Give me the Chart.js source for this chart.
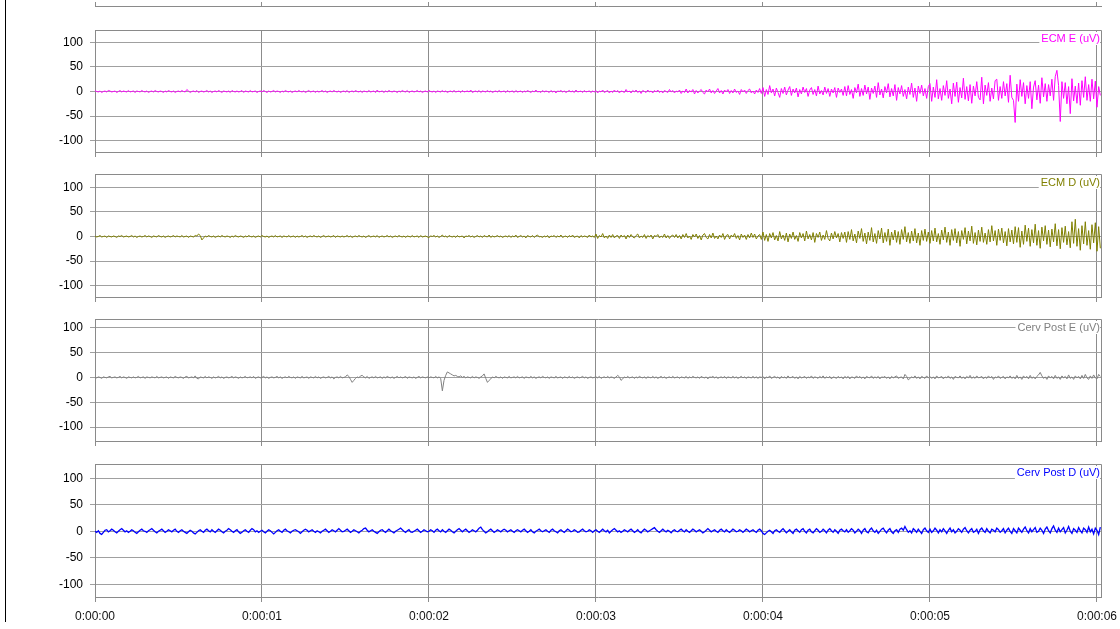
<!DOCTYPE html>
<html>
<head>
<meta charset="utf-8">
<script src="https://cdn.jsdelivr.net/npm/chart.js@4.4.1/dist/chart.umd.min.js"></script>
<style>
  html, body { margin: 0; padding: 0; background: #fff; }
  body { width: 1120px; height: 629px; position: relative; overflow: hidden; }
  canvas { position: absolute; left: 0; }
  #edge { position: absolute; left: 5px; top: 0; width: 1px; height: 622px; background: #000; }
</style>
</head>
<body>
<div id="edge"></div>
<script>
// sampling of the recordings (seconds between samples)
const SAMPLE_STEP = 0.01;

// x axis: ticks every second
const X_TICKS = [0, 1, 2, 3, 4, 5, 6];
const X_LABELS = ["0:00:00", "0:00:01", "0:00:02", "0:00:03", "0:00:04", "0:00:05", "0:00:06"];
const X_MAX = 6.024;

// y axis ticks (uV)
const Y_TICKS = [-100, -50, 0, 50, 100];

// channel names / colours
const CHANNELS = ["ECM E (uV)", "ECM D (uV)", "Cerv Post E (uV)", "Cerv Post D (uV)"];
const COLORS = ["#ff00ff", "#808000", "#808080", "#0000ff"];
const Y_MIN = [-123, -123, -128, -124];
const Y_MAX = [125, 127, 117.5, 127];

// 1. ECM E  (one row = 0.5 s)
const ECM_E = [
  2,0,-1,1,-2,0,1,-1,2,1, -1,0,1,-2,0,2,-1,1,0,-1, 2,-1,0,1,-2,1,0,-1,2,0, -1,1,-2,0,1,-1,2,0,-1,1, 0,-2,1,-1,2,0,-1,1,-2,0,
  1,-1,2,0,-1,4,1,-2,0,1, -1,2,-2,0,1,-1,0,2,-1,1, -2,0,1,-1,2,0,-2,1,0,-1, 1,-2,2,0,-1,1,-1,0,2,-2, 1,0,-1,2,-1,0,1,-2,0,1,
  -1,2,0,-2,1,-1,0,2,-1,1, 0,-2,1,-1,2,0,-1,1,-2,0, 1,-1,2,0,-1,1,-2,0,2,-1, 0,1,-2,1,-1,0,2,-1,1,-2, 0,1,-1,2,0,-1,1,-2,0,1,
  -1,2,-2,0,1,-1,2,0,-1,1, -2,1,0,-1,2,-1,0,1,-2,3, -1,0,1,-2,1,-1,2,0,-1,1, 0,-2,1,-1,2,0,-1,2,-2,0, 1,-1,0,2,-1,1,-2,0,1,-1,
  2,0,-1,1,-2,1,0,-1,2,-1, 1,-2,0,1,-1,2,-1,0,1,-2, 2,-1,0,1,-1,3,-2,0,1,-1, 2,-2,1,0,-1,2,-1,1,-2,0, 1,-1,2,-1,0,1,-2,2,-1,0,
  1,-2,2,-1,0,1,-2,1,-1,2, 0,-2,1,-1,3,-1,0,-2,2,-1, 1,0,-2,2,-1,1,-3,1,0,2, -1,1,-2,0,2,-1,1,-2,3,-1, 0,1,-2,2,-1,0,1,-2,1,-1,
  2,-3,1,-1,3,-2,0,2,-3,1, -2,3,-1,2,-3,1,0,-2,4,-1, 1,-3,2,-1,3,-2,1,-4,2,0, -2,3,-1,1,-3,2,-1,3,-2,1, -3,2,0,-2,4,-1,2,-3,1,-1,
  3,-4,1,-2,5,-3,2,-1,4,-5, 2,-3,1,4,-2,-5,3,-1,5,-3, 2,-4,1,6,-3,2,-5,3,-1,4, -4,2,-3,5,-2,1,-6,4,-1,3, -4,2,5,-3,1,-5,3,-2,6,-4,
  8,-10,4,-6,12,-3,5,-9,7,-2, -12,6,-4,9,-7,3,10,-8,5,-3, 7,-11,4,-5,9,-2,6,-10,3,8, -6,4,-9,11,-5,2,-7,9,-4,6, -10,5,-3,8,-12,7,-2,5,-8,10,
  -9,12,-6,4,-14,8,-3,15,-10,6, -8,13,-5,9,-16,7,-4,11,-12,18, -7,5,-13,10,-3,16,-11,6,-9,14, -18,8,-5,12,-10,4,-15,9,-6,17, -12,7,-20,11,-4,13,-9,6,-14,10,
  16,-20,9,-12,24,-15,6,-18,12,-8, 22,-14,5,-25,17,-10,19,-22,8,-13, 27,-16,10,-19,14,-24,11,-9,20,-12, -17,29,-25,13,-8,18,-20,7,-15,22, 25,-18,10,-14,20,-9,16,-22,33,-12,
  -18,-63,15,-20,24,-10,18,-25,12,-14, 20,-35,9,22,-17,13,-24,28,-11,16, -20,14,-9,25,-18,30,43,12,-61,20, -14,18,-25,10,-45,26,-19,11,-24,17, -28,22,-12,30,-18,14,-20,25,-15,21,
  -32,10,-8
];

// 2. ECM D
const ECM_D = [
  1,-1,0,2,-1,0,1,-2,1,0, -1,1,0,-2,1,0,2,-1,0,1, -1,0,2,-1,1,-2,0,1,-1,0, 2,-1,1,0,-2,1,0,-1,2,0, -1,1,-2,0,1,-1,0,2,-1,1,
  0,-1,2,-1,0,1,-2,1,0,-1, 2,1,5,2,-7,-3,1,-1,2,0, -1,1,-2,0,1,-1,2,0,-1,1, 0,-2,1,-1,2,0,-1,1,0,-2, 1,-1,2,0,-1,1,-2,0,1,-1,
  2,0,-1,1,-2,0,1,-1,2,-1, 0,1,-2,1,0,-1,2,-1,0,1, -2,1,-1,0,2,-1,1,-2,0,1, -1,2,0,-1,1,-2,0,2,-1,0, 1,-1,0,2,-2,1,0,-1,1,-1,
  0,2,-1,1,-2,0,1,-1,2,0, -1,1,-2,0,2,-1,0,1,-1,2, -2,0,1,-1,0,2,-1,1,-2,0, 1,-1,2,0,-1,1,-2,1,0,-1, 2,-1,0,1,-2,2,-1,0,1,-1,
  -2,1,0,2,-1,1,-2,0,3,-1, 1,-2,2,0,-1,1,-2,2,-1,0, 1,-3,1,0,2,-1,1,-2,0,2, -1,1,-2,2,0,-1,3,-2,1,-1, 0,2,-1,1,-2,0,1,-1,2,-2,
  1,-1,3,-2,0,2,-1,1,-3,2, 0,-1,2,-2,1,3,-1,0,-2,1, -1,2,-3,1,0,2,-2,1,-1,3, -2,0,1,-2,2,-1,3,-2,0,1, -3,2,-1,1,0,-2,3,-1,1,-2,
  5,-4,2,-1,6,-3,1,-4,3,-2, 4,-3,1,2,-4,3,-1,2,-5,3, -2,4,-1,-3,2,5,-3,1,-2,4, -4,2,-1,3,-5,2,0,4,-3,1, -2,5,-3,2,-4,1,3,-2,4,-3,
  2,-5,4,-2,6,-3,1,-6,4,-1, 5,-4,2,-7,3,6,-2,-5,4,-3, 7,-4,1,-5,3,-2,6,-6,2,4, -5,3,-1,6,-4,2,-7,5,-2,3, -6,4,-3,7,-2,5,-5,1,4,-6,
  9,-8,4,-10,6,-3,8,-7,2,-9, 10,-5,3,-8,7,-11,5,-4,9,-6, 2,-10,8,-3,6,-9,11,-5,4,-7, 8,-12,6,-2,9,-8,3,-6,12,-4, -9,7,-5,10,-3,6,-11,8,-4,9,
  -12,10,-6,14,-9,5,-13,11,-4,16, -10,7,-15,9,-8,18,-11,6,-14,12, -5,17,-13,8,-10,15,-18,9,-7,13, -12,10,-16,14,-6,20,-11,8,-14,11, -9,16,-13,7,-18,12,-8,15,-10,9,
  -14,12,-9,17,-11,6,-16,13,-7,19, -12,9,-18,14,-8,16,-13,10,-20,12, -6,18,-15,11,-9,21,-14,8,-17,13, -10,19,-12,7,-16,14,-11,22,-9,12, -18,15,-8,17,-13,10,-19,16,-11,13,
  -15,20,-12,18,-22,11,-16,23,-10,17, -20,14,-13,25,-18,12,-24,19,-9,22, -16,13,-21,15,-11,26,-19,14,-25,18, -12,21,-17,10,-23,30,-14,35,-20,16, -28,22,-15,30,-18,12,-26,24,-13,28,
  -30,20,-24
];

// 3. Cerv Post E
const CERV_E = [
  0,-1,1,0,-2,1,0,-1,1,2, -1,0,1,-1,0,2,-1,1,0,-2, 1,0,-1,1,-1,0,2,-1,0,1, -2,1,0,-1,1,0,-1,2,-1,0, 1,-1,0,1,-2,1,0,-1,2,0,
  -1,1,0,-2,1,2,-1,0,1,-1, 3,-2,-3,1,0,-1,2,-1,1,0, -2,1,-1,0,2,-1,1,-2,0,1, -1,0,2,-1,1,0,-2,1,-1,0, 2,-1,0,1,-1,2,-2,0,1,-1,
  0,2,-1,1,-2,0,1,-1,0,2, -1,1,-2,0,1,-1,2,0,-1,1, -2,1,0,-1,2,-1,0,1,-2,1, 0,-1,2,-1,1,-2,0,1,-1,0, 2,-1,1,-3,0,1,-1,2,-1,0,
  1,5,2,-4,-10,-6,-2,1,-1,3, 4,1,-1,2,-2,0,1,-1,2,-1, 0,1,-2,1,-1,2,0,-1,1,-2, 0,2,-1,1,-1,0,2,-2,1,0, -1,1,-2,0,2,-1,1,0,-1,1,
  -1,1,0,-1,2,-1,1,-2,-27,-6, 4,11,9,7,5,3,4,2,1,3, 0,2,-1,1,0,-1,2,-1,1,0, -2,1,3,7,-2,-10,-6,-3,1,-1, 2,0,-1,1,-2,1,0,-1,2,-1,
  0,1,-1,2,-1,0,1,-2,1,0, -1,2,-1,1,-2,0,1,-1,2,0, -1,1,-2,1,0,-1,2,-1,0,1, -2,1,0,-1,2,-1,1,-2,0,1, -1,0,2,-1,1,-2,0,1,-1,0,
  1,-1,2,-2,0,1,-1,2,-1,1, 0,-2,1,4,1,-6,-3,1,-1,2, -1,0,1,-2,1,-1,2,0,-1,1, -2,1,0,-1,2,-1,1,-2,0,2, -1,1,-2,0,1,-1,2,-1,0,1,
  -2,1,0,-1,2,-2,1,-1,2,0, -1,1,-2,2,0,-1,1,-3,1,0, 2,-1,1,-2,0,1,-1,2,-2,1, 0,-1,2,-1,1,-2,0,2,-1,1, -2,1,0,-1,2,-1,1,-2,1,0,
  2,-3,1,-1,3,-2,0,2,-1,1, -3,2,-1,1,-2,3,-1,0,2,-2, 1,-3,2,-1,0,2,-2,1,-1,3, -2,1,0,-2,2,-1,3,-2,1,-1, 2,-3,1,0,-2,2,-1,1,-3,2,
  -1,2,-3,1,0,-2,3,-1,2,-2, 1,-3,2,0,-1,3,-2,1,-1,2, -3,1,0,2,-2,1,-3,2,-1,1, 3,-2,0,1,-3,6,2,-5,-2,1, -1,3,-2,1,-3,2,0,-2,3,-1,
  2,-2,1,-3,3,-1,0,2,-3,1, -1,3,-2,1,-4,2,0,-1,3,-2, 1,-3,2,-1,4,-2,1,-2,3,-1, 0,2,-3,1,-2,3,-1,2,-4,1, -1,3,-2,0,2,-3,1,-1,3,-2,
  1,-3,4,-2,1,-4,3,-1,2,-3, 4,-2,1,-3,2,5,10,3,-2,1, -4,3,-1,2,-3,4,-2,1,-4,3, -1,2,-3,5,-2,1,-4,3,-1,2, -3,4,-2,6,-1,-4,3,-2,5,-1,
  -3,6,2
];

// 4. Cerv Post D
const CERV_D = [
  0,-2,1,-4,-6,-2,2,3,-1,1, 4,2,-1,-3,0,3,5,2,-1,1, -2,0,3,1,-2,-4,-1,2,4,1, 0,-2,1,3,5,2,-1,-3,0,2, 4,1,-2,0,3,1,-1,2,4,0,
  -2,1,3,0,-2,-4,-1,2,0,-3, -5,-2,1,3,0,-2,2,4,1,-1, 3,0,-2,1,4,2,-1,-3,0,2, 5,3,0,-2,1,3,-1,-4,-2,1, 3,0,-2,2,5,3,-1,1,-2,0,
  2,-1,-3,0,3,1,-2,-5,-2,1, 3,0,-2,2,4,1,-1,-3,0,2, 3,1,-1,-4,-1,2,4,2,-1,1, 3,0,-2,1,-1,-3,0,2,4,1, -2,0,3,1,-1,2,5,2,-1,0,
  2,4,1,-2,0,3,1,-1,-3,0, 2,5,6,2,-1,1,3,0,-2,-4, -1,2,3,0,-2,1,4,1,-1,-3, 0,2,4,6,3,0,-2,1,3,-1, -2,0,2,4,1,-2,0,3,1,-1,
  0,3,1,-2,2,4,1,-1,3,0, -2,1,4,2,-1,-3,0,3,5,2, -1,2,4,1,-2,0,3,1,-1,2, 6,8,3,0,-3,-1,2,4,1,-2, 0,3,1,-1,2,4,2,-1,1,3,
  0,-2,1,3,1,-1,2,4,1,-2, 0,3,-1,-3,0,2,4,1,-1,1, 3,0,-2,2,4,1,-1,-3,1,3, 0,-2,1,4,2,-1,0,3,1,-2, -1,2,4,1,-1,0,3,1,-2,1,
  3,0,-2,1,4,1,-1,2,-3,0, 3,5,2,-1,1,-2,0,3,1,-1, 2,4,1,-2,0,3,-1,-3,1,4, 2,-1,1,3,5,7,3,0,-2,1, 4,1,-1,2,0,-3,1,3,0,-1,
  2,4,1,-1,3,0,-2,1,4,2, -1,1,3,0,-3,-1,2,5,2,-1, 1,3,0,-2,2,4,1,-1,3,0, -2,1,4,2,-1,0,3,1,-2,1, 4,2,-1,1,3,0,-2,2,4,1,
  -4,-6,-3,0,2,-1,-4,1,3,0, -2,2,5,1,-3,0,3,-1,-4,2, 4,1,-2,3,5,0,-3,2,4,-1, -3,1,5,2,-2,0,4,1,-3,2, 5,1,-2,3,0,-4,2,4,1,-1,
  3,-2,1,5,2,-3,0,4,1,-4, 2,5,-1,-3,3,6,1,-2,2,-4, 0,4,6,1,-3,2,5,-1,-4,1, 3,-2,4,6,2,9,3,-2,1,-3, 5,2,-2,4,0,-4,3,6,1,-2,
  4,-2,1,6,2,-3,3,-1,5,1, -4,2,6,-1,3,-3,0,5,2,-2, 4,7,1,-3,2,5,-2,0,4,-4, 3,6,1,-2,5,0,-3,4,2,-1, 6,3,-2,1,5,-3,2,6,0,-4,
  5,1,-3,6,2,-2,4,8,1,-3, 5,-1,3,7,-2,0,6,2,-4,4, 8,1,-3,5,10,2,-2,6,-1,3, 7,-3,2,9,0,-4,5,2,-2,7, 1,-3,6,3,-2,8,-1,4,-5,6,
  2,-6,8
];

const SERIES = [ECM_E, ECM_D, CERV_E, CERV_D];

// page layout of the four strips (plot top / bottom in page pixels)
const PLOT_TOP = [30, 174, 319, 464];
const PLOT_BOTTOM = [152, 297, 441, 597];
const PAD_TOP = 3;

const FONT = "'Liberation Sans', Arial, sans-serif";

// frame + channel name in the top right corner
const panelDecor = {
  id: 'panelDecor',
  afterDatasetsDraw(chart, args, opts) {
    const a = chart.chartArea;
    const ctx = chart.ctx;
    const al = p => Math.round(p - 0.5) + 0.5;
    ctx.save();
    if (opts.label) {
      ctx.font = "11px " + FONT;
      const w = ctx.measureText(opts.label).width;
      ctx.fillStyle = '#fff';
      ctx.fillRect(a.right - w - 3, a.top + 2, w + 2, 13);
      ctx.fillStyle = opts.color;
      ctx.textAlign = 'right';
      ctx.textBaseline = 'middle';
      ctx.fillText(opts.label, a.right - 1, a.top + 8.5);
    }
    ctx.strokeStyle = '#8a8a8a';
    ctx.lineWidth = 1;
    ctx.beginPath();
    ctx.moveTo(al(a.left), al(a.top));
    ctx.lineTo(al(a.right), al(a.top));
    ctx.lineTo(al(a.right), al(a.bottom));
    ctx.stroke();
    ctx.restore();
  }
};

// no extra room for half tick labels: the strips are placed by hand
function noPad(s) {
  s.paddingTop = 0;
  s.paddingBottom = 0;
  s.paddingLeft = 0;
  s.paddingRight = 0;
}

function addCanvas(top, height) {
  const c = document.createElement('canvas');
  c.width = 1120;
  c.height = height;
  c.style.top = top + 'px';
  document.body.appendChild(c);
  return c;
}

// small remnant of the axis above the first strip
const stub = addCanvas(0, 8);
new Chart(stub.getContext('2d'), {
  type: 'line',
  data: { datasets: [] },
  options: {
    responsive: false,
    animation: false,
    layout: { padding: { top: 2, left: 95, right: 19, bottom: 0 } },
    plugins: { legend: { display: false }, tooltip: { enabled: false } },
    scales: {
      x: {
        type: 'linear', min: 0, max: X_MAX,
        afterBuildTicks: s => { s.ticks = X_TICKS.map(v => ({ value: v })); },
        afterFit: s => { s.height = 2; noPad(s); },
        ticks: { display: false },
        grid: { color: '#8c8c8c', drawTicks: false },
        border: { color: '#8a8a8a' }
      },
      y: { display: false, min: 0, max: 1 }
    }
  }
});

SERIES.forEach((values, k) => {
  const last = k === SERIES.length - 1;
  const plotH = PLOT_BOTTOM[k] - PLOT_TOP[k];
  const axisH = last ? 30 : 6;
  const cv = addCanvas(PLOT_TOP[k] - PAD_TOP, PAD_TOP + plotH + axisH);
  const points = values.map((v, i) => ({ x: i * SAMPLE_STEP, y: v }));

  new Chart(cv.getContext('2d'), {
    type: 'line',
    data: {
      datasets: [{
        label: CHANNELS[k],
        data: points,
        borderColor: COLORS[k],
        borderWidth: k === 3 ? 1.3 : 1,
        pointRadius: 0,
        tension: 0,
        fill: false
      }]
    },
    options: {
      responsive: false,
      animation: false,
      layout: { padding: { top: PAD_TOP, left: 0, right: 19, bottom: 0 } },
      plugins: {
        legend: { display: false },
        tooltip: { enabled: false },
        panelDecor: { label: CHANNELS[k], color: COLORS[k] }
      },
      scales: {
        x: {
          type: 'linear', min: 0, max: X_MAX,
          afterBuildTicks: s => { s.ticks = X_TICKS.map(v => ({ value: v })); },
          afterFit: s => { s.height = axisH; noPad(s); },
          ticks: {
            display: last,
            autoSkip: false,
            maxRotation: 0,
            padding: 7,
            color: '#111',
            font: { family: FONT, size: 12 },
            callback: (v, i) => X_LABELS[i]
          },
          grid: { color: '#8c8c8c', tickLength: 5 },
          border: { color: '#8a8a8a' }
        },
        y: {
          min: Y_MIN[k], max: Y_MAX[k],
          afterBuildTicks: s => { s.ticks = Y_TICKS.map(v => ({ value: v })); },
          afterFit: s => { s.width = 95; noPad(s); },
          ticks: {
            padding: 7,
            color: '#000',
            font: { family: FONT, size: 12 }
          },
          grid: { color: '#a0a0a0', tickLength: 5 },
          border: { color: '#8a8a8a' }
        }
      }
    },
    plugins: [panelDecor]
  });
});
</script>
</body>
</html>
